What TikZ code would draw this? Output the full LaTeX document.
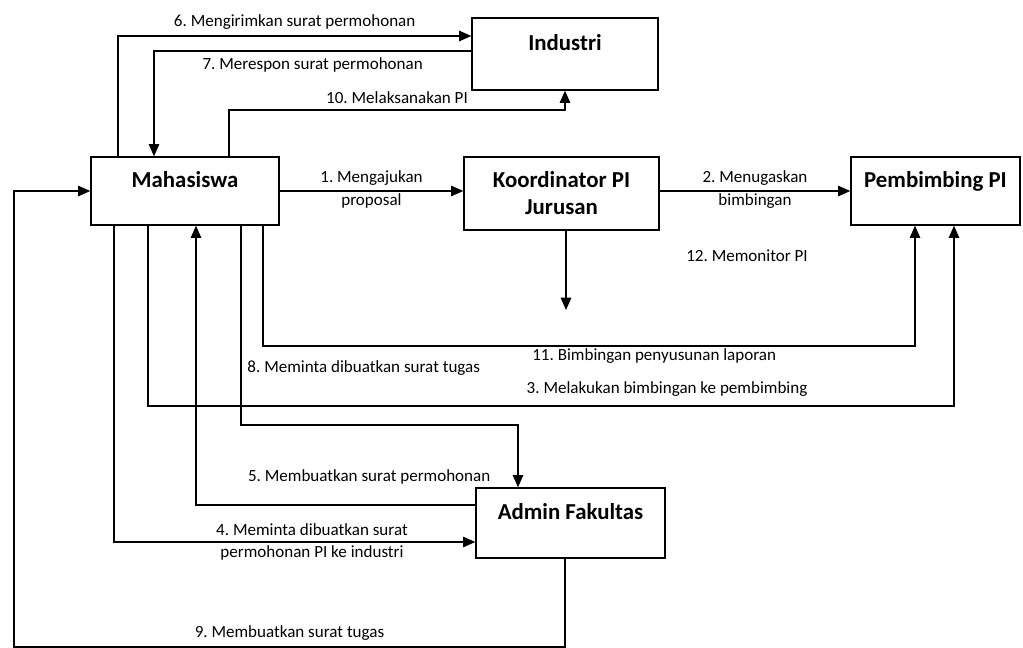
\documentclass[tikz,border=0pt]{standalone}
\usepackage{fontspec}
\setmainfont{Carlito}
\frenchspacing
\usetikzlibrary{arrows.meta}
\usetikzlibrary{positioning}

\begin{document}
\begin{tikzpicture}
  [x=0.02cm,y=-0.02cm,line width=0.7pt,
  box/.style={rectangle,draw=black,line width=0.8pt,align=center,inner sep=2pt,font=\bfseries\fontsize{13}{15.3}\selectfont},
  topbox/.style={box,text height=9pt,text depth=13pt},
  arr/.style={-{Triangle[length=7pt,width=6pt]}},
  lbl/.style={draw=none,align=center,font=\fontsize{9.7}{13}\selectfont}]
  \useasboundingbox (0,0) rectangle (1023,648);

  \node[topbox,minimum width=3.76cm,minimum height=1.36cm] (mhs) at (185,191) {Mahasiswa};
  \node[topbox,minimum width=3.72cm,minimum height=1.44cm] (ind) at (565,54) {Industri};
  \node[box,minimum width=3.9cm,minimum height=1.46cm] (kor) at (561.5,193.5) {Koordinator PI\\Jurusan};
  \node[topbox,minimum width=3.38cm,minimum height=1.36cm] (pem) at (935.5,191) {Pembimbing PI};
  \node[topbox,minimum width=3.78cm,minimum height=1.4cm] (adm) at (570.5,523) {Admin Fakultas};

  \coordinate (mon) at (566,310);
  \node[lbl] (monlbl) at (747,256) {12. Memonitor PI};

  \draw [arr] (mhs.east) -- (mhs.east -| kor.west) node [midway,lbl,yshift=1pt] {1. Mengajukan\\proposal};
  \draw [arr] (kor.east |- pem.west) -- (pem.west) node [midway,lbl,yshift=1pt] {2. Menugaskan\\bimbingan};
  \draw [arr] (kor.south -| mon) -- (mon);

  \draw [arr] (mhs.north -| 118,0) |- (ind.west |- 0,36) node [pos=0.75,above,lbl] {6. Mengirimkan surat permohonan};
  \draw [arr] (ind.west |- 0,51) -| (mhs.north -| 154,0) node [pos=0.25,below,lbl] {7. Merespon surat permohonan};
  \draw [arr] (mhs.north -| 229,0) |- (ind.south |- 0,110) node [pos=0.75,above,lbl] {10. Melaksanakan PI} -- (ind.south);

  \draw [arr] (mhs.south -| 263,0) |- (915,346) node [pos=0.8,below,inner ysep=1pt,lbl] {11. Bimbingan penyusunan laporan} -- (pem.south -| 915,0);
  \draw [arr] (mhs.south -| 148,0) |- (954,406) node [pos=0.822,above=2pt,lbl] {3. Melakukan bimbingan ke pembimbing} -- (pem.south -| 954,0);
  \draw [arr] (mhs.south -| 241,0) |- (518,425) node [pos=0.357,right,lbl] {8. Meminta dibuatkan surat tugas} -- (adm.north -| 518,0);
  \draw [arr] (adm.west |- 0,505) -| (mhs.south -| 196,0) node [pos=0.19,above=8pt,lbl] {5. Membuatkan surat permohonan};
  \draw [arr] (mhs.south -| 114,0) |- (adm.west |- 0,542) node [pos=0.774,lbl] {4. Meminta dibuatkan surat\\permohonan PI ke industri};
  \draw [arr] (adm.south -| 565,0) |- (14,647) node [pos=0.75,above,lbl] {9. Membuatkan surat tugas} |- (mhs.west);

\end{tikzpicture}
\end{document}
